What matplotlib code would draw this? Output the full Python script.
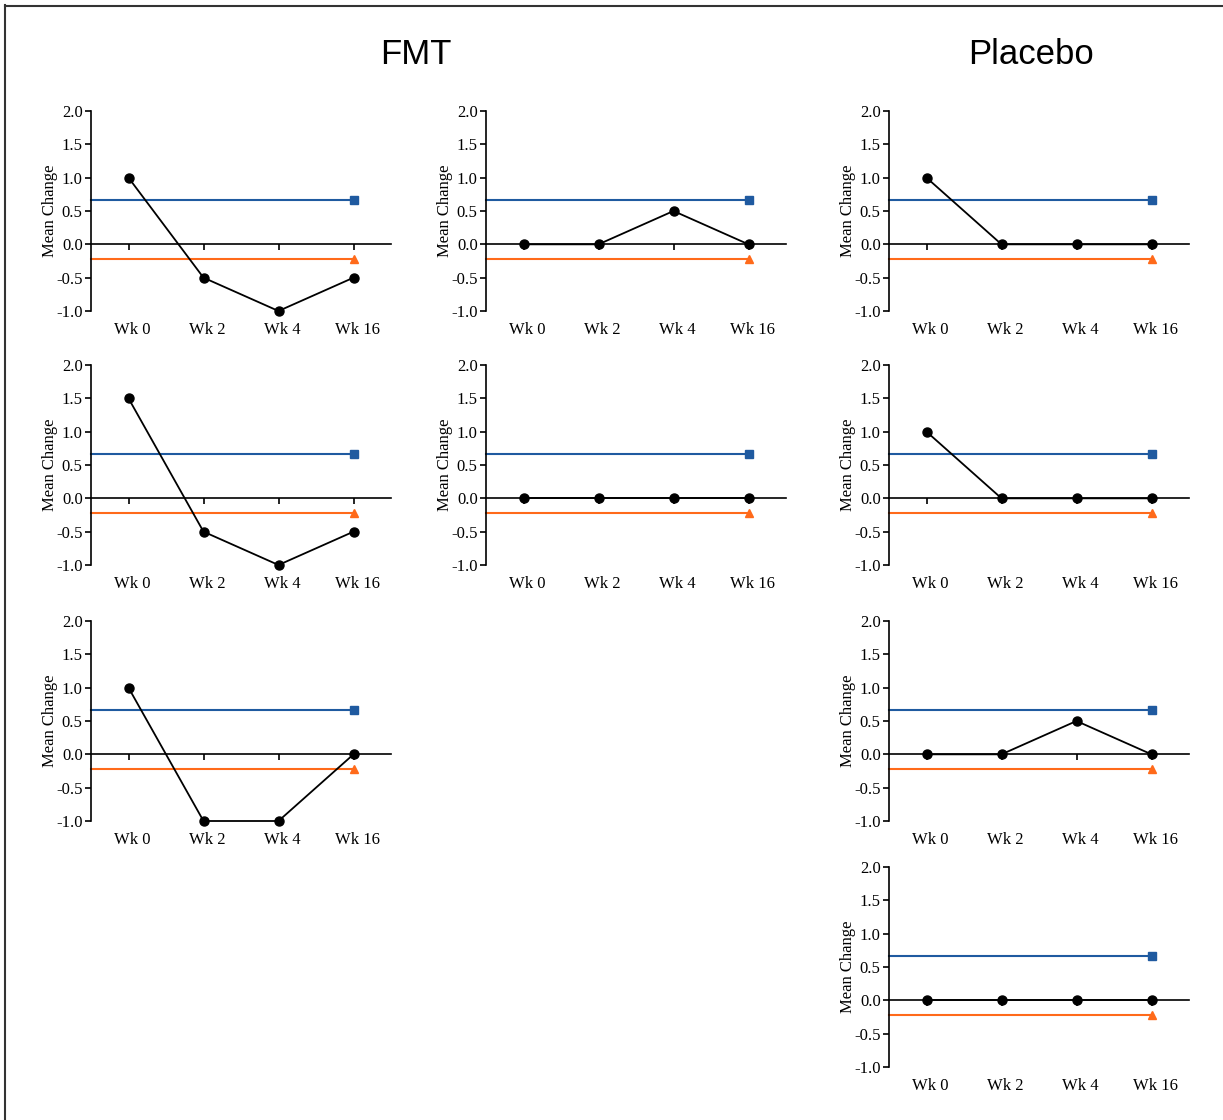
import matplotlib
matplotlib.use('Agg')
import matplotlib.pyplot as plt
import matplotlib.transforms as mtransforms
from matplotlib.lines import Line2D

# data
weeks = ['Wk 0', 'Wk 2', 'Wk 4', 'Wk 16']
fmt_a = [1.0, -0.5, -1.0, -0.5]
fmt_b = [1.5, -0.5, -1.0, -0.5]
fmt_c = [1.0, -1.0, -1.0, 0.0]
fmt_d = [0.0, 0.0, 0.5, 0.0]
fmt_e = [0.0, 0.0, 0.0, 0.0]
pla_a = [1.0, 0.0, 0.0, 0.0]
pla_b = [1.0, 0.0, 0.0, 0.0]
pla_c = [0.0, 0.0, 0.5, 0.0]
pla_d = [0.0, 0.0, 0.0, 0.0]
blue_ref = 0.667
orange_ref = -0.22
yticks = [-1.0, -0.5, 0.0, 0.5, 1.0, 1.5, 2.0]

BLUE = '#1f5aa0'
ORANGE = '#ff6a1a'

plt.rcParams['font.family'] = ['Liberation Serif', 'DejaVu Serif']
plt.rcParams['font.size'] = 12

fig = plt.figure(figsize=(12.23, 11.20), dpi=100)

# panel positions (left, bottom) in figure fractions
cols = {0: 91 / 1223, 1: 486 / 1223, 2: 889 / 1223}
rows = {0: 1 - 311 / 1120, 1: 1 - 565 / 1120, 2: 1 - 821 / 1120, 3: 1 - 1067 / 1120}
W = 300 / 1223
H = 200 / 1120

panels = [
    (0, 0, fmt_a), (1, 0, fmt_b), (2, 0, fmt_c),
    (0, 1, fmt_d), (1, 1, fmt_e),
    (0, 2, pla_a), (1, 2, pla_b), (2, 2, pla_c), (3, 2, pla_d),
]

x = list(range(len(weeks)))
shift = mtransforms.ScaledTranslation(4 / 100, 0, fig.dpi_scale_trans)

for r, c, vals in panels:
    ax = fig.add_axes([cols[c], rows[r], W, H])
    ax.set_xlim(-0.5, 3.5)
    ax.set_ylim(-1.0, 2.0)
    for s in ['top', 'right']:
        ax.spines[s].set_visible(False)
    ax.spines['left'].set_linewidth(1.2)
    ax.spines['bottom'].set_position(('data', 0))
    ax.spines['bottom'].set_linewidth(1.2)
    ax.set_yticks(yticks)
    ax.set_yticklabels(['%.1f' % v for v in yticks])
    ax.tick_params(axis='y', direction='out', length=4, width=1.2, pad=2)
    ax.set_xticks(x)
    ax.tick_params(axis='x', direction='out', length=4, width=1.2, labelbottom=False)
    ax.set_ylabel('Mean Change')
    ax.yaxis.set_label_coords(-0.11, 0.5)

    sec = ax.secondary_xaxis(0)
    sec.set_xticks(x)
    sec.set_xticklabels(weeks)
    sec.spines['bottom'].set_visible(False)
    sec.tick_params(axis='x', length=0, pad=8)
    for lab in sec.get_xticklabels():
        lab.set_transform(lab.get_transform() + shift)

    ax.plot([-0.5, x[-1]], [blue_ref, blue_ref], color=BLUE, lw=1.5,
            marker='s', markersize=5.5, markevery=[1], clip_on=False)
    ax.plot([-0.5, x[-1]], [orange_ref, orange_ref], color=ORANGE, lw=1.5,
            marker='^', markersize=5.5, markevery=[1], clip_on=False)
    ax.plot(x, vals, color='black', lw=1.3, marker='o', markersize=6.5,
            clip_on=False, zorder=5)

fig.text(416 / 1223, 1 - 54 / 1120, 'FMT', family='Liberation Sans',
         fontsize=25, ha='center', va='center')
fig.text(1031 / 1223, 1 - 54 / 1120, 'Placebo', family='Liberation Sans',
         fontsize=25, ha='center', va='center')

# frame around figure (left and top only visible)
fig.add_artist(Line2D([4.5 / 1223, 4.5 / 1223], [0, 1 - 5 / 1120],
                      transform=fig.transFigure, color='#333333', lw=1.5))
fig.add_artist(Line2D([4.5 / 1223, 1], [1 - 5.5 / 1120, 1 - 5.5 / 1120],
                      transform=fig.transFigure, color='#333333', lw=1.5))

fig.savefig('out.png', dpi=100)
